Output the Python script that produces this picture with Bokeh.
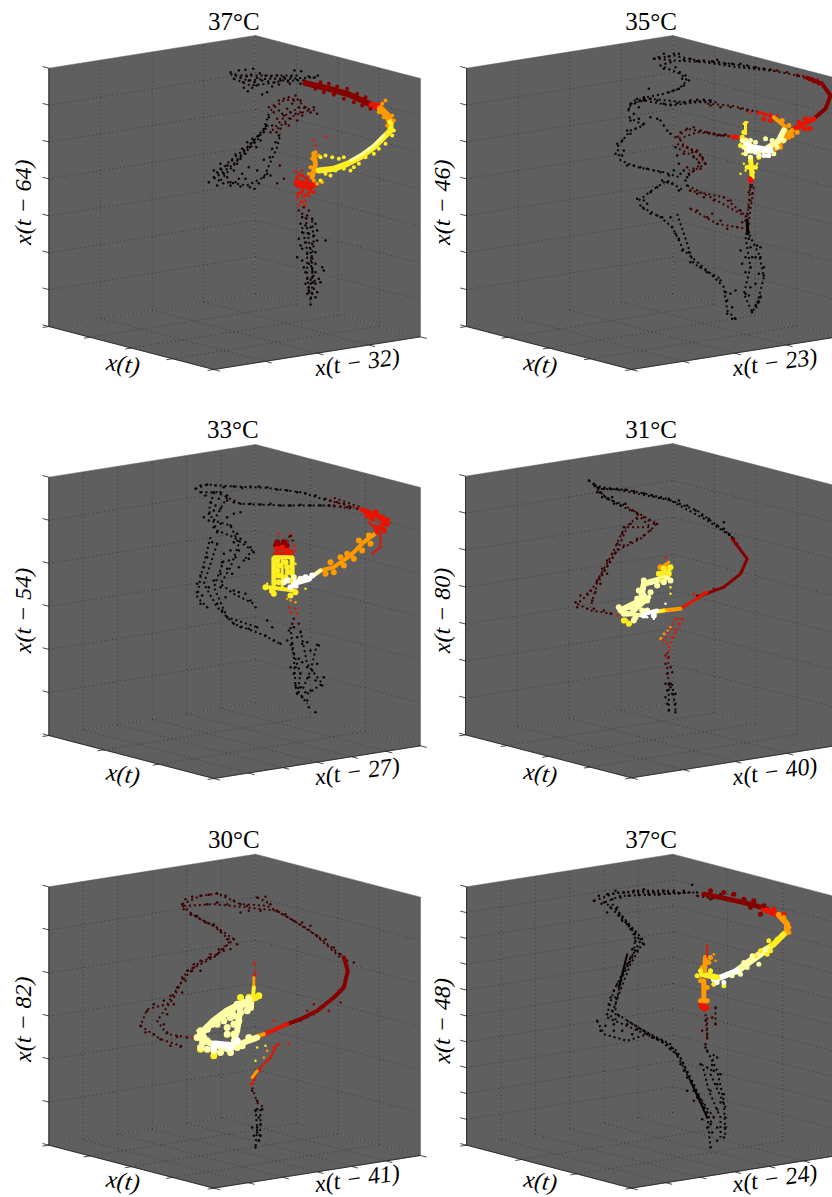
import numpy as np
from bokeh.plotting import figure
from bokeh.layouts import column, row
from bokeh.models import Range1d
from bokeh.core.properties import value
from bokeh.embed import file_html
from bokeh.resources import INLINE

TITLES = ["37°C", "35°C", "33°C", "31°C", "30°C", "37°C"]
LAGS = [(32, 64), (23, 46), (27, 54), (40, 80), (41, 82), (24, 48)]
GRID_INTERVALS = [(4, 4, 7), (4, 4, 7), (6, 3, 6), (4, 4, 7), (6, 4, 6), (6, 3, 10)]

# Single points, flat x,y pairs.
P1_k = [690,215,705,222,700,235,715,210,720,232,728,245,735,208,738,228,745,240,752,222,758,205,762,245,770,232,778,218,785,240,795,226,803,243,812,228,822,245,830,225,840,240,850,230,862,243,872,228,882,210,890,238,902,212,912,240,925,228,940,232,952,225,730,262,742,272,755,262,768,255,785,282,800,275,815,258,835,252,868,250,900,250,
625,545,640,530,650,515,660,505,670,520,655,540,668,548,680,530,690,545,700,510,710,490,720,475,735,460,748,440,760,425,775,405,790,395,800,375,805,350,795,385,680,495,695,480,705,462,725,445,740,425,755,415,768,440,780,420,690,555,705,545,720,558,735,535,748,560,762,565,775,548,790,530,800,520,810,525,815,445,825,425,835,405,808,470,790,478,770,510,745,500,725,520,650,555,640,510,660,490,715,535,
905,650,920,645,935,655,945,670,900,670,915,675,930,680,950,690,905,695,925,700,940,705,895,715,915,725,935,730,950,720,930,745,945,755,920,760,905,745,935,775,925,790,945,790,905,780,890,770,935,805,945,815,915,815,965,800,935,830,955,835,920,835,945,850,930,850,915,850,940,865,925,870,950,875,935,880,920,880,930,895,945,890,930,912,960,845,970,810,910,800,900,735,975,720,925,860,938,845,930,838]
P1_d = [830,548,850,535,838,495,895,630,910,620,925,630,905,640,918,655,805,320,820,315,835,300,850,295,865,290,885,285,900,300,915,320,930,335,950,340,940,320,875,310,860,325,845,340,830,355,815,375,840,385,855,370,870,355,885,340,900,335,890,360,865,375,850,345,880,300,905,345,820,335,828,395,810,395,870,335,835,330,895,320]
P1_r = [885,512,895,520,905,510,915,530,945,435,940,420,975,408,885,540,895,560,905,575,890,590,900,605,915,600,925,585,930,570,895,615,912,615]
P2_k = [670,175,685,170,700,160,715,168,730,160,745,160,760,178,780,175,800,182,820,180,845,182,865,185,885,190,905,190,930,190,950,195,975,200,1000,205,1020,207,860,178,690,195,705,190,720,185,735,200,700,205,748,215,755,235,765,225,775,240,760,255,745,265,730,270,715,275,
655,265,640,290,620,295,600,310,595,325,625,320,640,300,660,295,680,300,700,310,720,312,740,308,760,305,780,300,800,298,820,298,840,300,610,340,625,355,640,370,660,350,680,355,600,360,590,390,575,420,560,430,555,460,575,465,590,495,610,495,630,500,650,505,670,510,690,515,715,525,730,510,600,400,615,385,580,450,700,375,710,390,720,400,690,360,
620,595,640,600,660,575,680,560,695,540,710,545,725,550,745,570,640,625,660,640,680,645,695,650,720,650,725,680,735,700,745,715,755,750,775,755,780,785,810,800,830,815,850,825,870,840,885,875,890,900,905,920,890,940,905,955,915,955,900,880,915,870,650,610,630,615,
950,690,955,715,960,740,975,770,990,770,1000,800,985,820,1000,825,975,850,960,860,945,880,955,885,990,890,975,915,965,935,985,905,945,770,935,790,945,815,960,800,930,750,990,740,965,770,980,735,770,530,765,540,775,520,760,510,745,490,740,465,735,440,770,555,750,520,950,680,955,695,948,700]
P2_d = [735,410,750,395,770,385,790,380,810,390,830,395,850,400,870,405,885,402,750,420,770,440,785,455,800,450,815,470,825,490,810,505,790,510,770,500,790,470,805,485,760,460,780,570,800,580,820,590,850,600,880,590,900,600,930,630,945,660,950,640,955,620,960,600,965,580,800,630,830,650,860,670,890,685,920,680,935,665,870,660,780,625,845,640,960,560,955,670,1040,210,1070,215,1100,225,1130,232,840,315,870,320,900,320,930,325,950,330,965,555,955,575,880,404,860,405]
P2_r = [1000,340,1020,340,1040,345,1140,380,1145,385,900,405,915,405,960,545,960,335,980,340]
P2_y = [940,370,945,385,950,365,935,460,940,490,930,520,945,510,970,515,980,490]
P3_k = [585,235,600,225,620,222,645,225,670,230,700,228,725,232,750,228,775,228,800,230,830,238,860,240,890,245,915,248,945,255,975,265,600,245,615,255,640,245,660,245,680,255,700,275,720,280,750,280,780,282,810,280,840,285,870,285,900,283,930,285,960,285,985,285,630,275,645,285,660,295,680,270,655,265,640,300,625,310,610,320,625,330,640,350,650,365,660,340,680,320,700,310,720,305,690,345,710,370,720,385,735,395,750,410,760,425,745,445,730,450,700,395,715,420,705,440,690,420,670,430,650,400,635,395,620,440,610,470,600,495,590,520,590,545,600,580,620,590,605,555,625,530,640,510,660,490,680,475,665,455,685,450,695,490,715,470,660,530,675,560,700,540,715,545,735,550,750,570,765,590,650,580,665,600,680,620,700,640,720,650,745,655,770,650,800,630,815,650,795,675,820,690,840,700,
865,660,880,650,900,665,860,690,875,700,890,680,905,700,920,695,930,720,955,705,880,730,895,745,870,770,885,770,905,755,920,770,935,780,950,760,880,790,900,790,925,800,945,810,965,825,970,800,885,825,900,830,915,845,930,840,890,850,905,860,920,870,945,905,925,890]
P3_d = [880,625,875,640,895,640,990,270,1010,275,1030,280,1050,290,1070,295,1000,285,1020,288,1040,290]
P3_r = [865,590,885,595,870,605,890,610,870,370,860,395,880,405,885,420,835,370]
P3_o = [860,565,870,570,885,575]
P3_y = [800,520,810,545,885,460,890,530,915,535]
P4_k = [475,210,490,220,505,232,500,245,520,235,540,235,560,235,585,238,610,242,640,248,665,255,690,262,715,265,745,270,770,285,795,300,815,315,835,325,860,345,880,355,895,370,905,380,515,260,530,265,545,260,550,280,570,285,585,280,510,245,495,225,880,335,705,820,720,820,710,840,725,850,705,860,735,850,710,880,735,880,715,900,735,905,720,830]
P4_d = [910,385,920,400,605,300,620,310,640,320,655,330,670,340,680,340,660,360,640,375,620,385,600,395,580,350,600,340,620,325,575,370,560,400,545,430,530,450,515,475,500,510,480,540,470,550,450,555,435,575,440,590,470,595,490,595,520,600,540,610,485,570,495,545,510,520,530,490,555,425,580,405,705,760,720,770,710,790,725,785]
P4_m = [850,535,830,545,800,555,705,735,715,740]
P4_r = [705,440,740,625,755,625,745,640,735,660,725,680,710,700,700,690,715,720,560,615,790,550,820,545]
P4_o = [690,685,700,670,720,650]
P4_y = [720,530,720,550,600,640,590,630,585,625]
P4_w = [705,580,650,620,670,625]
P5_d = [545,290,555,275,575,268,600,265,625,262,650,258,675,265,700,280,720,290,740,295,770,270,795,268,810,290,830,310,855,320,880,340,905,345,930,355,950,385,975,395,1000,420,1020,440,1040,460,1060,465,550,305,570,320,590,325,615,345,640,350,660,370,680,395,700,395,710,410,690,425,670,430,650,440,625,450,600,460,580,470,560,490,545,510,530,540,510,565,490,580,460,590,440,610,420,655,435,675,460,680,480,695,510,715,540,718,560,690,530,688,500,675,490,650,500,620,520,590,545,555,555,520,575,490,600,490,630,440,655,425,620,290,650,285,680,290,720,315,745,310,780,310,755,850,770,880]
P5_k = [770,905,775,930,770,960,760,985,775,1000,765,1020,780,950,755,960,765,910,785,905,770,975,780,985]
P5_m = [960,600,940,620,920,630,900,640,880,640,860,650,840,660,940,590,920,610,985,610,1020,585]
P5_r = [575,690,590,720,820,640,835,710,865,708,760,465,765,500,820,720,810,750,780,790,760,810,750,830]
P5_o = [790,750,800,730]
P5_y = [765,760,770,720,795,715,640,750,780,565,590,670]
P6_k = [490,280,505,265,530,260,555,250,580,255,610,250,640,245,670,255,700,250,730,250,760,250,785,232,800,255,520,285,545,275,570,270,595,265,625,262,655,260,685,262,715,258,745,258,540,300,530,315,560,300,565,325,590,350,610,380,630,395,640,410,620,430,600,450,580,490,570,520,550,550,535,590,530,620,550,650,500,640,510,670,550,670,590,650,620,665,650,680,680,695,710,710,740,740,760,790,790,850,820,900,840,950,840,1020,
575,340,600,365,615,400,605,425,595,465,590,475,575,505,560,530,540,570,555,570,545,610,565,625,525,655,575,670,605,680,640,670,665,690,695,700,720,725,750,770,770,810,800,870,830,915,815,935,845,975,830,960,850,930,860,905,790,880,770,850,
830,730,860,750,870,800,880,860,885,930,880,990,860,1000,830,780,810,770,825,720,850,790,860,830,840,850,870,885,860,960,885,960]
P6_d = [800,265,820,260,840,275,870,260,905,262,825,640,845,630,815,670,830,690,825,710,855,600,855,650]
P6_r = [830,415,830,430]
P6_o = [850,440,855,460,810,510]

# Trajectories seen as chains of dots: polylines.
P1_k_chains = [[690,220,740,240,800,235,860,235,950,230],[700,235,750,255,800,250,850,240,920,240],[720,225,780,225,840,225,900,225],
 [640,535,700,490,750,430,790,385,805,340],[660,540,720,470,770,420,800,370],[650,520,690,480,740,440,780,400],[680,545,740,555,790,530,830,440,840,400],
 [915,650,925,720,935,790,935,860,930,905],[935,660,940,730,930,790,945,850],[905,680,920,750,920,820,925,880]]
P1_d_chains = [[810,330,850,300,890,295,930,340],[815,390,860,340,900,320,945,330],[830,385,870,350,910,335]]
P1_r_chains = [[890,590,910,610,900,570]]
P2_k_chains = [[670,175,730,165,800,180,900,190,1000,205],[685,175,730,180,820,185,920,200,1040,212],[700,200,750,220,770,240,745,265,700,280,650,290,600,315,590,340],
 [610,300,660,295,760,305,840,300],[600,310,640,300,720,315,800,305,860,305],[595,350,640,375,600,390,560,440,570,480,620,500,700,515,745,530],
 [625,600,670,565,710,540,760,570],[635,620,690,650,725,680,760,750,830,810,880,860,890,930,915,955],[740,640,790,790,870,835],[950,690,985,760,1000,830,975,930],[945,710,960,800,940,880,965,935,995,880]]
P2_d_chains = [[740,410,770,385,880,405],[745,415,800,395,900,408],[740,430,800,455,825,490,790,510,770,530],[745,445,795,470,810,495,775,510],[755,430,815,465,825,495],
 [770,555,840,590,950,650],[775,570,880,590,950,650],[960,550,950,660],[970,560,955,660],[780,625,860,670,950,685],[830,310,900,315,985,335],[1000,205,1100,225,1160,240]]
P2_m_chains = [[1100,222,1170,240,1200,280,1195,310,1160,345],[1120,232,1180,260,1205,285]]
P3_k_chains = [[585,235,620,222,700,228,800,232,900,245,980,270],[600,245,650,245,720,280,850,285,985,285],[640,245,625,300,650,360,700,380,755,420,730,450],
 [680,260,640,330,690,345,715,400,690,470,660,520,700,550,760,580],[630,380,600,500,590,560,620,590],[650,400,610,520,650,590,700,640,780,670,840,700],[670,450,640,530,680,620,770,650],
 [870,650,880,740,885,830,920,880],[900,660,920,760,965,820,920,850],[870,700,900,790,890,850],[950,700,930,780,905,840]]
P3_d_chains = [[985,270,1060,290],[985,285,1060,295],[1000,262,1080,290],[860,395,870,370,880,400]]
P3_r_chains = [[1060,290,1120,310,1155,340],[1080,300,1140,340,1150,370]]
P4_k_chains = [[475,210,505,235,590,238,700,262,800,300,900,375],[490,225,600,245,720,270,830,330,905,380],[490,225,530,265,585,285],[505,245,560,280,600,300],[715,820,715,900],[725,820,735,900]]
P4_d_chains = [[590,290,680,340,630,385,560,420,520,480,475,550,440,580,480,600,550,610],[610,300,660,350,590,350,560,420,500,520,480,590],[620,320,580,355,545,430,495,520],[710,770,715,820]]
P4_m_chains = [[710,725,715,770]]
P4_r_chains = [[755,625,725,690,710,720],[735,625,700,690]]
P4_o_chains = [[690,685,720,650]]
P5_d_chains = [[545,290,600,265,650,258,720,290,800,295,880,340,950,385,1030,450],[550,295,640,290,740,300,830,310,930,370,1020,450],[770,270,810,290],
 [545,295,590,330,650,360,700,395,650,440,590,470,545,520,500,590,440,605,420,655,480,695,550,718],[570,320,640,355,690,400,640,450,560,490,520,570,470,640,500,680,555,688],[755,840,770,885],[770,885,790,900]]
P5_k_chains = [[765,905,770,960,765,1020],[780,905,780,960,775,1005]]
P5_r_chains = [[765,470,760,510]]
P6_k_chains = [[490,280,560,255,680,255,800,255],[510,290,570,265,660,262,780,255],[530,260,620,250,720,250],[530,290,590,350,630,400,590,470,550,550,530,620],[545,290,600,355,640,400,600,470,565,560,540,630],
 [555,305,615,375,610,440,575,510,555,590,555,640],[500,640,520,680,590,700,650,680],[530,630,600,660,680,695,740,730,780,820,830,920,840,1020],[560,620,640,670,720,710,760,780,800,860,850,930],[590,640,690,700,750,750,790,830,845,950],
 [830,730,860,790,880,880,885,990],[815,770,835,850,870,930,870,990],[850,740,840,800,885,900]]
P6_d_chains = [[800,265,860,275],[830,630,830,700],[825,620,830,690],[855,600,855,660]]

# Dense bundles of trajectories: centre lines.
P1_bundles = [[915,248,975,262,1040,280,1085,300,1125,318],[1115,315,1140,318],[895,550,930,555],[1140,325,1160,345,1170,365],[940,460,945,490,935,530],[1170,365,1170,390,1150,410,1120,440,1080,470,1040,490,1000,505,955,510],[1150,405,1120,435,1085,460,1050,480]]
P2_bundles = [[1130,232,1175,250,1200,285,1185,325,1150,355],[1150,355,1110,375,1085,390],[1085,390,1060,420,1040,435],[985,335,1030,350],[1030,350,1060,375,1070,395],[905,410,925,410],[945,365,945,400],[960,470,965,530],[958,535,962,540],[945,420,950,450,1000,450,1045,420,1060,390],[950,430,965,440,1020,450],[950,660,952,700]]
P3_bundles = [[1085,298,1130,315,1155,335,1140,350],[1105,335,1140,370,1140,410,1115,430],[1130,365,1090,395,1050,435,1000,470,960,480],[1125,350,1130,365],[960,480,925,505],[925,505,880,518],[820,445,820,520],[875,445,875,490],[845,445,845,530],[805,530,880,540],[822,440,875,440],[822,428,875,428],[825,405,860,405]]
P4_bundles = [[905,385,950,445,930,490,880,530],[880,530,800,560],[830,545,750,595],[750,595,700,600],[700,600,670,605],[680,600,640,610],[570,600,630,570,640,520,710,500],[600,610,655,560],[590,610,640,615],[690,490,715,480],[700,465,715,455]]
P5_bundles = [[1030,450,1042,490,1030,540,1000,570,950,610,900,635,860,650],[860,650,780,685],[790,680,745,695],[830,710,810,750,770,790,755,830],[770,790,755,810],[760,510,760,540],[760,540,755,590],[600,680,640,640,680,610,720,590,750,590,750,600],[610,700,680,725,730,705,770,690],[605,680,605,710],[720,600,710,670,700,700],[640,705,700,710]]
P6_bundles = [[820,260,880,272,960,290,1010,305],[1000,305,1050,325],[1045,322,1070,350,1068,375],[1060,380,1030,410,1000,430],[1010,425,960,460,920,490],[920,490,870,510,850,515],[860,510,815,500],[825,450,822,490],[820,520,820,590],[822,595,822,605],[830,415,830,450],[780,820,830,930],[590,440,565,540]]

# Loose edge of the dense bundles: points.
P1_fringe_m = [960,245,985,250,1010,258,1040,265,1070,280,1095,290,945,265,970,275,1000,283,1030,295,1060,305,1085,315,1110,325]
P1_fringe_r = [890,530,905,525,920,535,935,545,945,555,900,545,885,550,915,560,930,565,905,570,895,580,915,585,925,575,940,575]
P1_fringe_o = [935,475,945,455,955,465,930,500,925,520,940,540,950,550,965,545,1175,345,1180,360,1155,300,1145,310,1135,335,1150,350,1160,375]
P1_fringe_y = [960,470,975,465,995,470,1015,475,1030,470,1005,510,1030,505,1050,510,1075,490,1060,500,1095,470,1120,460,1135,445,1155,430,1175,405,1180,390,975,520,990,525,960,540]
P2_fringe_r = [1120,385,1135,385,1105,365,1125,355,1000,355,1020,360]
P2_fringe_o = [1075,375,1055,360,1085,405,1050,440,1035,445,1100,395,1075,410]
P2_fringe_y = [935,410,940,395,930,435,960,480,975,500,950,500,985,470]
P2_fringe_l = [935,420,940,440,945,460,960,470,985,465,1010,465,1030,460,1040,440,1060,420,1025,420,1005,415,960,420,975,425]
P2_fringe_w = [955,450,975,455,1000,465,1015,465,960,440]
P3_fringe_m = [830,395,850,395,840,410]
P3_fringe_r = [830,415,845,412,860,420,870,425,1150,360,1160,340,1100,315,1125,305,1145,320,1160,330,1115,325]
P3_fringe_o = [1020,440,1030,465,1000,485,975,490,1060,445,1085,420,1110,400,1105,375,1075,390,1040,430,990,455]
P3_fringe_y = [830,450,835,465,830,480,835,495,855,455,860,470,862,485,855,500,868,510,835,515,815,540,795,530,870,555,885,545,820,550]
P3_fringe_l = [850,515,880,500]
P3_fringe_w = [860,510,885,525,870,530,900,505,915,500,935,495]
P4_fringe_o = [705,470,690,470]
P4_fringe_y = [685,490,700,475,715,490,720,470,695,510,580,630,595,640]
P4_fringe_l = [565,590,580,610,600,590,615,620,635,600,650,570,660,545,640,555,620,565,625,540,640,510,660,515,680,525,700,515,720,510,650,600,610,630,590,610]
P4_fringe_w = [650,605,670,615,640,615]
P5_fringe_y = [600,725,640,745,720,570,745,570,765,570,775,565]
P5_fringe_l = [620,665,635,650,650,640,665,625,680,620,695,610,710,590,730,585,745,575,600,670,590,690,600,720,620,725,640,730,660,735,690,735,710,720,725,715,745,690,650,650,670,640,690,630,700,650,680,660,620,660,620,700,610,690,700,625,720,615,740,610,715,640,700,680,680,680]
P5_fringe_w = [650,710,670,715,690,720,710,700,640,720]
P6_fringe_m = [840,250,880,255,910,260,940,275,970,280,1000,295,960,300,990,320]
P6_fringe_r = [815,600,830,600,810,590,1030,305,1060,320]
P6_fringe_o = [815,480,835,465,810,520,830,540,830,580,810,580,840,450,1075,360,1075,375,1060,330]
P6_fringe_y = [1040,395,1015,400,1010,440,1020,430,990,430,975,445,840,490,800,505,810,490,850,530,880,535]
P6_fringe_l = [985,470,950,480,930,500,905,505,940,465,965,445]
P6_fringe_w = [880,525,860,525,890,500]

PANEL_DOTS = [
    [("k", P1_k), ("d", P1_d), ("r", P1_r)],
    [("k", P2_k), ("d", P2_d), ("r", P2_r), ("y", P2_y)],
    [("k", P3_k), ("d", P3_d), ("r", P3_r), ("o", P3_o), ("y", P3_y)],
    [("k", P4_k), ("d", P4_d), ("m", P4_m), ("r", P4_r), ("o", P4_o), ("y", P4_y), ("w", P4_w)],
    [("k", P5_k), ("d", P5_d), ("m", P5_m), ("r", P5_r), ("o", P5_o), ("y", P5_y)],
    [("k", P6_k), ("d", P6_d), ("r", P6_r), ("o", P6_o)],
]
PANEL_CHAINS = [
    [("k", P1_k_chains), ("d", P1_d_chains), ("r", P1_r_chains)],
    [("k", P2_k_chains), ("d", P2_d_chains), ("m", P2_m_chains)],
    [("k", P3_k_chains), ("d", P3_d_chains), ("r", P3_r_chains)],
    [("k", P4_k_chains), ("d", P4_d_chains), ("m", P4_m_chains), ("r", P4_r_chains), ("o", P4_o_chains)],
    [("k", P5_k_chains), ("d", P5_d_chains), ("r", P5_r_chains)],
    [("k", P6_k_chains), ("d", P6_d_chains)],
]
PANEL_BUNDLES = [P1_bundles, P2_bundles, P3_bundles, P4_bundles, P5_bundles, P6_bundles]
BUNDLE_STYLE = [
    [("m", 6), ("r", 7), ("r", 8), ("o", 7), ("o", 5), ("y", 6), ("l", 3)],
    [("m", 4), ("r", 5), ("o", 5), ("r", 3), ("o", 4), ("r", 4), ("y", 3), ("y", 5), ("r", 5), ("l", 6), ("w", 6), ("k", 3)],
    [("r", 5), ("r", 2), ("o", 4), ("r", 5), ("l", 4), ("w", 6), ("y", 5), ("y", 5), ("y", 3), ("y", 4), ("y", 4), ("r", 3), ("m", 5)],
    [("m", 3), ("m", 3), ("r", 3), ("o", 4), ("y", 4), ("w", 4), ("l", 6), ("l", 5), ("l", 4), ("y", 5), ("o", 3)],
    [("m", 4), ("r", 4), ("o", 4), ("r", 2), ("o", 3), ("o", 3), ("y", 4), ("l", 7), ("l", 6), ("l", 6), ("l", 6), ("w", 4)],
    [("m", 5), ("r", 6), ("o", 6), ("y", 6), ("l", 7), ("w", 6), ("y", 6), ("o", 5), ("o", 5), ("r", 5), ("r", 1.5), ("k", 2), ("k", 2)],
]
PANEL_FRINGE = [
    [("m", P1_fringe_m), ("r", P1_fringe_r), ("o", P1_fringe_o), ("y", P1_fringe_y)],
    [("r", P2_fringe_r), ("o", P2_fringe_o), ("y", P2_fringe_y), ("l", P2_fringe_l), ("w", P2_fringe_w)],
    [("m", P3_fringe_m), ("r", P3_fringe_r), ("o", P3_fringe_o), ("y", P3_fringe_y), ("l", P3_fringe_l), ("w", P3_fringe_w)],
    [("o", P4_fringe_o), ("y", P4_fringe_y), ("l", P4_fringe_l), ("w", P4_fringe_w)],
    [("y", P5_fringe_y), ("l", P5_fringe_l), ("w", P5_fringe_w)],
    [("m", P6_fringe_m), ("r", P6_fringe_r), ("o", P6_fringe_o), ("y", P6_fringe_y), ("l", P6_fringe_l), ("w", P6_fringe_w)],
]
FRINGE_SIZE = [4, 5, 6, 6, 7, 5]

COLORS = dict(k="#0a0000", d="#3c0000", m="#860000", r="#e61400", o="#ff9a00", y="#ffee20", l="#ffffa8", w="#ffffff")
WALL = "#5f5f5f"
GRID = "#2e2e2e"
SERIF = value("Liberation Serif")

BOX = [
    dict(L=145, C=765, F=640, top=203, bot=978),
    dict(L=108, C=727, F=603, top=203, bot=978),
    dict(L=145, C=765, F=640, top=200, bot=975),
    dict(L=105, C=727, F=603, top=197, bot=973),
    dict(L=145, C=765, F=640, top=238, bot=1013),
    dict(L=108, C=727, F=603, top=238, bot=1013),
]
TITLE_POS = [(700, 64), (662, 64), (697, 58), (662, 58), (700, 95), (662, 97)]
YLAB_POS = [(68, 605), (33, 605), (68, 600), (33, 600), (68, 635), (33, 640)]
XLAB_POS = [(368, 1090), (330, 1090), (368, 1090), (330, 1088), (368, 1120), (330, 1120)]
ZLAB_POS = [(1070, 1085), (1033, 1085), (1070, 1082), (1033, 1082), (1070, 1112), (1033, 1112)]
XR = [(0, 1290), (0, 1206)]
YR = [((1230, 0), 410), ((1191, 0), 397), ((1170, 0), 390)]


def panel(i):
    col, rw = i % 2, i // 2
    (y0, y1), h = YR[rw]
    x0, x1 = XR[col]
    p = figure(width=(x1 - x0) // 3, height=h, x_range=Range1d(x0, x1), y_range=Range1d(y0, y1),
               output_backend="svg", toolbar_location=None, x_axis_location=None, y_axis_location=None,
               min_border=0, outline_line_color=None, background_fill_color="white")
    p.grid.visible = False
    b = BOX[i]
    Lp = np.array([b["L"], b["bot"]], float)
    U = np.array([b["C"] - b["L"], -98.0])
    V = np.array([b["F"] - b["L"], 129.0])
    H = np.array([0.0, -(b["bot"] - b["top"])])

    def pr(u, v, w):
        return Lp + u * U + v * V + w * H

    def seg(pairs, **kw):
        a = np.array([q[0] for q in pairs])
        c = np.array([q[1] for q in pairs])
        p.segment(a[:, 0], a[:, 1], c[:, 0], c[:, 1], **kw)

    walls = [
        [pr(0, 0, 0), pr(1, 0, 0), pr(1, 0, 1), pr(0, 0, 1)],
        [pr(1, 0, 0), pr(1, 1, 0), pr(1, 1, 1), pr(1, 0, 1)],
        [pr(0, 0, 0), pr(1, 0, 0), pr(1, 1, 0), pr(0, 1, 0)],
    ]
    p.patches([[q[0] for q in w] for w in walls], [[q[1] for q in w] for w in walls],
              fill_color=WALL, line_color=WALL, line_width=0.5)

    nu, nv, nw = GRID_INTERVALS[i]
    us, vs, ws = np.linspace(0, 1, nu + 1), np.linspace(0, 1, nv + 1), np.linspace(0, 1, nw + 1)
    g = []
    for u in us[1:-1]:
        g += [(pr(u, 0, 0), pr(u, 0, 1)), (pr(u, 0, 0), pr(u, 1, 0))]
    for v in vs[1:-1]:
        g += [(pr(1, v, 0), pr(1, v, 1)), (pr(0, v, 0), pr(1, v, 0))]
    for w in ws[1:-1]:
        g += [(pr(0, 0, w), pr(1, 0, w)), (pr(1, 0, w), pr(1, 1, w))]
    g += [(pr(1, 0, 0), pr(1, 0, 1)), (pr(1, 0, 0), pr(0, 0, 0)), (pr(1, 0, 0), pr(1, 1, 0))]
    seg(g, line_color=GRID, line_width=0.7, line_dash="1 3")

    edges = [(pr(0, 0, 0), pr(0, 0, 1)), (pr(0, 0, 0), pr(0, 1, 0)), (pr(0, 1, 0), pr(1, 1, 0))]
    t = []
    for w in ws:
        t.append((pr(0, 0, w), pr(0, -0.038, w)))
    for v in vs:
        t.append((pr(0, v, 0), pr(-0.03, v, 0)))
    for u in us:
        t.append((pr(u, 1, 0), pr(u, 1.038, 0)))
    seg(edges + t, line_color="#1a1a1a", line_width=0.8)

    for level, chains in PANEL_CHAINS[i]:
        for c in chains:
            p.line(c[::2], c[1::2], line_color=COLORS[level], line_width=2, line_dash="2 3")
    for level, pts in PANEL_DOTS[i]:
        p.scatter(pts[::2], pts[1::2], marker="circle", size=2.5, fill_color=COLORS[level], line_color=None)
    for (level, width), pts in zip(BUNDLE_STYLE[i], PANEL_BUNDLES[i]):
        p.line(pts[::2], pts[1::2], line_color=COLORS[level], line_width=width, line_cap="round", line_join="round")
    for level, pts in PANEL_FRINGE[i]:
        p.scatter(pts[::2], pts[1::2], marker="circle", size=FRINGE_SIZE[i], fill_color=COLORS[level], line_color=None)

    lag1, lag2 = LAGS[i]
    p.text([TITLE_POS[i][0]], [TITLE_POS[i][1]], text=[TITLES[i]], text_font=SERIF, text_font_size="25px",
           text_color="black", text_align="center", text_baseline="middle")
    labels = [(YLAB_POS[i], f"x(t − {lag2})", np.pi / 2), (XLAB_POS[i], "x(t)", -0.14),
              (ZLAB_POS[i], f"x(t − {lag1})", 0.14)]
    for (lx, ly), s, ang in labels:
        p.text([lx], [ly], text=[s], angle=ang, text_font=SERIF, text_font_size="24px", text_font_style="italic",
               text_color="black", text_align="center", text_baseline="middle")
    return p


figs = [panel(i) for i in range(6)]
layout = column(row(figs[0], figs[1], spacing=0), row(figs[2], figs[3], spacing=0), row(figs[4], figs[5], spacing=0), spacing=0)
open("out.html", "w").write(file_html(layout, INLINE))
